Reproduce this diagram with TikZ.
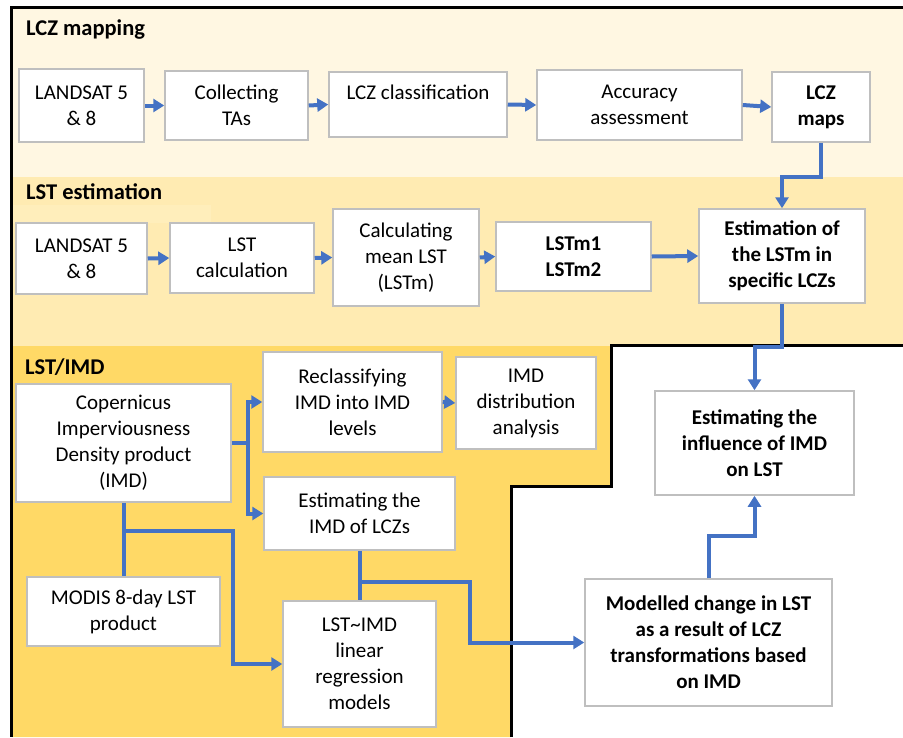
\documentclass[tikz,border=0pt]{standalone}
\usepackage{fontspec}
\setmainfont{Carlito}
\usetikzlibrary{arrows.meta}
\definecolor{bandA}{RGB}{255,247,226}
\definecolor{bandB}{RGB}{255,235,178}
\definecolor{bandBlight}{RGB}{255,238,187}
\definecolor{bandC}{RGB}{255,217,102}
\definecolor{boxgray}{RGB}{191,191,191}
\definecolor{flowblue}{RGB}{68,114,196}
\tikzset{
  stepbox/.style={draw=boxgray, fill=white, line width=1.5pt, align=center, inner sep=0pt,
    font=\fontsize{21pt}{26pt}\selectfont},
  boldbox/.style={stepbox, font=\fontsize{21pt}{26pt}\selectfont\bfseries},
  flow/.style={draw=flowblue, line width=4pt, -{Triangle[length=11pt,width=13pt]}},
  flowline/.style={draw=flowblue, line width=4pt},
  sectitle/.style={anchor=west, inner sep=0pt, font=\fontsize{22.5pt}{27pt}\selectfont\bfseries},
  frameline/.style={draw=black, line width=3pt}
}
\begin{document}
\begin{tikzpicture}[x=1pt,y=-1pt]
\useasboundingbox (0,0) rectangle (903,737);
% background bands
\fill[bandA] (11.5,7) rectangle (903,177);
\fill[bandB] (11.5,177) rectangle (903,346);
\fill[bandBlight] (13,205) rectangle (211,223);
\fill[bandC] (11.5,346) -- (611,346) -- (611,486) -- (511,486) -- (511,737) -- (11.5,737) -- cycle;
\draw[frameline] (903,7) -- (11.5,7) -- (11.5,737);
\draw[frameline] (903,345.5) -- (611,345.5) -- (611,486) -- (511,486) -- (511,737);
% titles
\node[sectitle] (t1) at (26,30) {LCZ mapping};
\node[sectitle] (t2) at (26,192) {LST estimation};
\node[sectitle] (t3) at (25,367) {LST/IMD};
% row 1
\node[stepbox, minimum width=125pt, minimum height=73pt] (a1) at (81.5,105.5) {LANDSAT 5\\\& 8};
\node[stepbox, minimum width=143pt, minimum height=69pt] (a2) at (236.5,105.5) {Collecting\\TAs};
\node[stepbox, minimum width=178pt, minimum height=65pt] (a3) at (418,104.5) {\raisebox{12.5pt}[\height][\depth]{LCZ classification}};
\node[stepbox, minimum width=205pt, minimum height=70pt] (a4) at (639.5,105) {Accuracy\\assessment};
\node[boldbox, minimum width=98pt, minimum height=70pt] (a5) at (821,107) {LCZ\\maps};
% row 2
\node[stepbox, minimum width=131pt, minimum height=71pt] (b1) at (81.5,258.5) {LANDSAT 5\\\& 8};
\node[stepbox, minimum width=144pt, minimum height=70pt] (b2) at (242,258) {LST\\calculation};
\node[stepbox, minimum width=146pt, minimum height=97pt] (b3) at (406,257.5) {Calculating\\mean LST\\(LSTm)};
\node[boldbox, minimum width=155pt, minimum height=69pt] (b4) at (573.5,256.5) {LSTm1\\LSTm2};
\node[boldbox, minimum width=166pt, minimum height=94pt] (b5) at (782,256) {Estimation of\\the LSTm in\\specific LCZs};
% row 3
\node[stepbox, minimum width=215pt, minimum height=118pt] (c1) at (123.5,443) {Copernicus\\Imperviousness\\Density product\\(IMD)};
\node[stepbox, minimum width=179pt, minimum height=100pt] (c2) at (352.5,402) {Reclassifying\\IMD into IMD\\levels};
\node[stepbox, minimum width=140pt, minimum height=92pt] (c3) at (526,403) {IMD\\distribution\\analysis};
\node[stepbox, minimum width=191pt, minimum height=73pt] (c4) at (359.5,513.5) {Estimating the\\IMD of LCZs};
\node[stepbox, minimum width=193pt, minimum height=69pt] (c5) at (123.5,611.5) {MODIS 8-day LST\\product};
\node[stepbox, minimum width=153pt, minimum height=126pt] (c6) at (359.5,664) {LST\textasciitilde IMD\\linear\\regression\\models};
\node[boldbox, minimum width=199pt, minimum height=104pt] (c7) at (754.5,443) {Estimating the\\influence of IMD\\on LST};
\node[boldbox, minimum width=247pt, minimum height=127pt] (c8) at (708.5,642.5) {Modelled change in LST\\as a result of LCZ\\transformations based\\on IMD};
% junctions
\coordinate (j1) at (123.5,531);
\coordinate (j2) at (359.5,582);
% connectors row 1
\draw[flow] (a1.east) -- (a2.west);
\draw[flow] (a2.east) -- (a3.west);
\draw[flow] (a3.east) -- (a4.west);
\draw[flow] (a4.east) -- (a5.west);
\draw[flow] (a5.south) -- ++(0,34) -| (b5.north);
% connectors row 2
\draw[flow] (b1.east) -- (b2.west);
\draw[flow] (b2.east) -- (b3.west);
\draw[flow] (b3.east) -- (b4.west);
\draw[flow] (b4.east) -- (b5.west);
\draw[flow] (b5.south) -- ++(0,43) -| (c7.north);
% connectors row 3
\draw[flow] (c1.east) -- ++(16,0) |- (c2.west);
\draw[flow] (c1.east) -- ++(16,0) |- (c4.west);
\draw[flow] (c2.east) -- (c3.west);
\draw[flowline] (c1.south) -- (c5.north);
\draw[flow] (j1) -- (233,531) |- (c6.west);
\draw[flowline] (c4.south) -- (c6.north);
\draw[flow] (j2) -- (470,582) |- (c8.west);
\draw[flow] (c8.north) -- ++(0,-42) -| (c7.south);
\end{tikzpicture}
\end{document}
